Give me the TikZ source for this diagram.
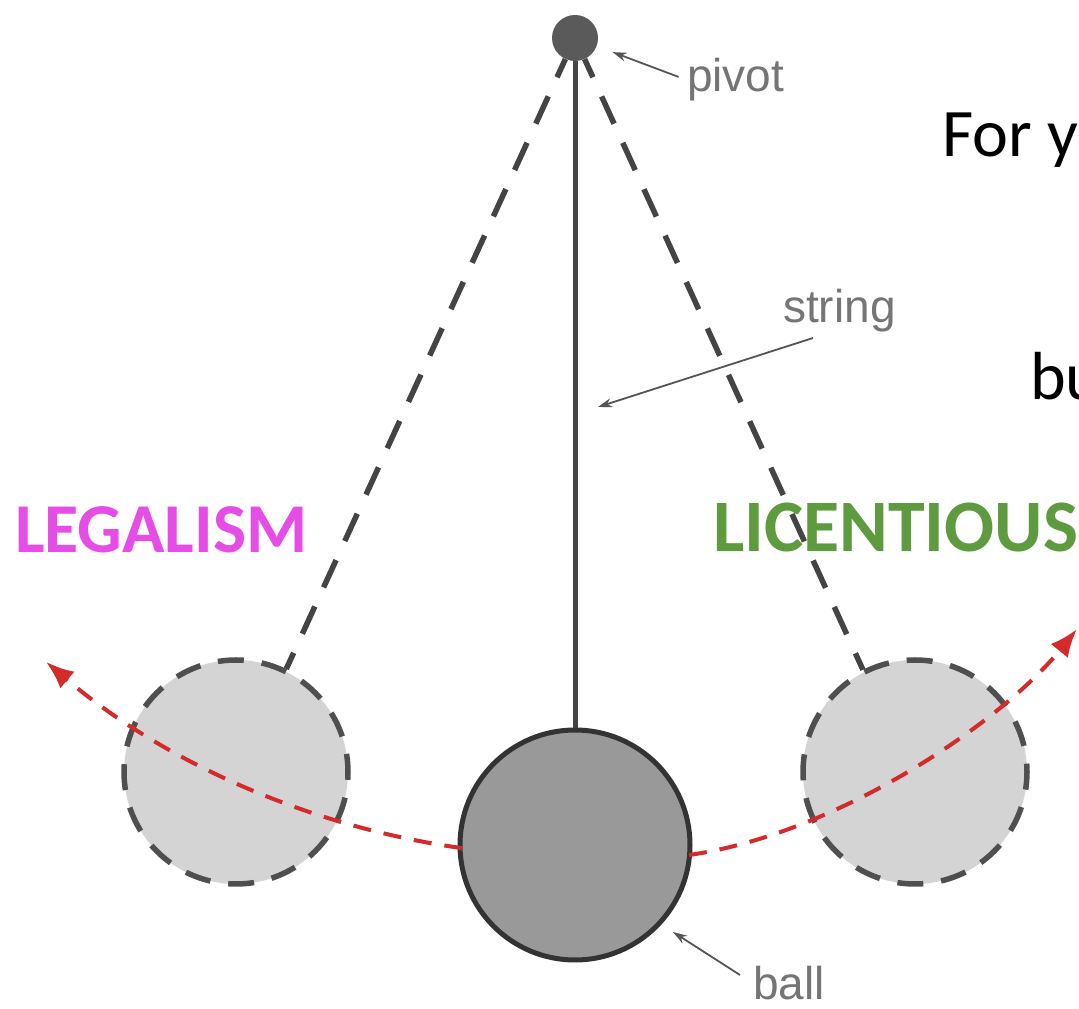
\documentclass[tikz,border=0pt]{standalone}
\usepackage{fontspec}
\setmainfont{Liberation Sans}
\newfontfamily\calfont{Carlito}
\newfontfamily\arialfont{Liberation Sans}
\usetikzlibrary{arrows.meta,calc}
\definecolor{ghostfill}{HTML}{D4D4D4}
\definecolor{ghostdraw}{HTML}{4F4F4F}
\definecolor{ballfill}{HTML}{999999}
\definecolor{balldraw}{HTML}{333333}
\definecolor{pivotfill}{HTML}{5A5A5A}
\definecolor{stringcol}{HTML}{444444}
\definecolor{lblcol}{HTML}{757575}
\definecolor{lblarrowcol}{HTML}{555555}
\definecolor{swingred}{HTML}{D42A2A}
\definecolor{legalcol}{HTML}{E64CE6}
\definecolor{licentcol}{HTML}{5E9B3E}
\begin{document}
\begin{tikzpicture}[x=1pt,y=1pt,
  ghostball/.style={circle, minimum size=224pt, inner sep=0pt, fill=ghostfill, draw=ghostdraw, line width=5.5pt, dash pattern=on 25.98pt off 18pt},
  bigball/.style={circle, minimum size=230pt, inner sep=0pt, fill=ballfill, draw=balldraw, line width=5pt},
  pivotdot/.style={circle, minimum size=46pt, inner sep=0pt, fill=pivotfill},
  solidstring/.style={draw=stringcol, line width=5pt},
  dashstring/.style={draw=stringcol, line width=5.5pt, dash pattern=on 30pt off 21pt, dash phase=10pt},
  redarc/.style={draw=swingred, line width=4pt, dash pattern=on 18pt off 13pt, -{Latex[length=28pt,width=22pt]}},
  lbl/.style={inner sep=0pt, anchor=base west, text=lblcol, font=\arialfont\fontsize{46}{50}\selectfont},
  lblarrow/.style={draw=lblarrowcol, line width=1.8pt, -{Stealth[length=14pt,width=9pt]}},
  bigword/.style={inner sep=0pt, anchor=base west, font=\calfont\bfseries\fontsize{70}{80}\selectfont},
  sideword/.style={inner sep=0pt, anchor=base west, text=black, font=\calfont\fontsize{68}{78}\selectfont}
]
\clip (0,0) rectangle (1079,1009);
\fill[white] (0,0) rectangle (1079,1009);

% side texts (behind the strings)
\node[bigword, text=legalcol] (legal) at (15,456) {LEGALISM};
\node[bigword, text=licentcol, font=\calfont\bfseries\fontsize{74}{84}\selectfont] (licent) at (713,457) {LICENTIOUSNESS};
\node[sideword] (fory) at (942,852) {For y};
\node[sideword] (bu) at (1030,609) {bu};

% pendulum parts
\node[pivotdot] (pv) at (575,971) {};
\node[ghostball, dash phase=7.8pt] (gL) at (236,237) {};
\node[ghostball, dash phase=17.6pt] (gR) at (915,237) {};

\draw[solidstring] (pv) -- (575,277) coordinate (balltop);
\node[bigball] (ball) at (575,164) {};

\draw[dashstring] (pv) -- (gL.64);
\draw[dashstring] (pv) -- (gR.117);

% swing path
\coordinate (rstart) at (689,154);
\coordinate (rend) at (1077,380);
\draw[redarc] ($(pv)+(262.07:818)$) arc[start angle=262.07, end angle=229.7, radius=818pt];
\draw[redarc] (rstart) .. controls (837,175) and (1001,286) .. (rend);

% labels
\node[lbl] (pvlab) at (687,917) {pivot};
\node[lbl] (strlab) at (783,686) {string};
\node[lbl] (balllab) at (753,9) {ball};

\draw[lblarrow, shorten <=9pt, shorten >=17pt] (pvlab.west) -- (pv);
\coordinate (stail) at (813,671);
\coordinate (stip) at (598,602);
\draw[lblarrow] (stail) -- (stip);
\coordinate (btail) at (740,34);
\coordinate (btip) at (673,77);
\draw[lblarrow] (btail) -- (btip);
\end{tikzpicture}
\end{document}
